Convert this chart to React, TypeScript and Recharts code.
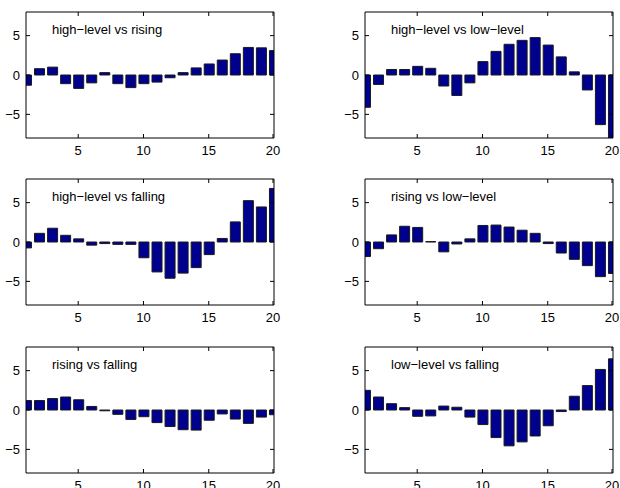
import { Bar, BarChart, XAxis, YAxis } from "recharts";

const STEPS = [1, 2, 3, 4, 5, 6, 7, 8, 9, 10, 11, 12, 13, 14, 15, 16, 17, 18, 19, 20];

const highVsRising = [-1.3, 0.8, 1.0, -1.1, -1.7, -1.0, 0.3, -1.1, -1.6, -1.1, -0.9, -0.35, 0.3, 0.9, 1.4, 1.9, 2.7, 3.5, 3.45, 3.1];
const highVsLow = [-4.1, -1.2, 0.7, 0.7, 1.1, 0.85, -1.4, -2.6, -1.0, 1.7, 3.0, 3.9, 4.4, 4.75, 3.8, 2.3, 0.4, -1.9, -6.3, -8.5];
const highVsFalling = [-0.75, 1.1, 1.75, 0.85, 0.4, -0.4, -0.2, -0.3, -0.3, -2.0, -3.8, -4.6, -3.95, -3.25, -1.6, 0.45, 2.55, 5.25, 4.45, 6.8];
const risingVsLow = [-1.85, -0.85, 0.9, 2.0, 1.85, 0.05, -1.25, -0.25, 0.4, 2.1, 2.15, 1.9, 1.5, 1.1, -0.2, -1.4, -2.2, -3.0, -4.4, -4.0];
const risingVsFalling = [1.2, 1.2, 1.45, 1.65, 1.3, 0.45, -0.1, -0.55, -1.2, -0.85, -1.6, -2.1, -2.5, -2.55, -1.3, -0.5, -1.15, -1.7, -0.9, -0.6];
const lowVsFalling = [2.5, 1.65, 0.8, 0.3, -0.8, -0.75, 0.5, 0.35, -0.9, -1.85, -3.5, -4.55, -4.05, -3.3, -2.0, -0.2, 1.75, 3.1, 5.15, 6.5];

const TITLES = [
  "high\u2212level vs rising",
  "high\u2212level vs low\u2212level",
  "high\u2212level vs falling",
  "rising vs low\u2212level",
  "rising vs falling",
  "low\u2212level vs falling",
];
const SERIES = [highVsRising, highVsLow, highVsFalling, risingVsLow, risingVsFalling, lowVsFalling];

const X_TICKS = [5, 10, 15, 20];
const Y_TICKS = [-5, 0, 5];

const FONT = "'Liberation Sans', Arial, Helvetica, sans-serif";
const MARGIN = 6;
const TICK_LEN = 4;

const fmt = (v: number) => String(v).replace("-", "\u2212");

function LeftTick({ x, y, payload }: any) {
  const ax = x + MARGIN;
  return (
    <g>
      <line x1={ax} x2={ax + TICK_LEN} y1={y} y2={y} stroke="#000" />
      <text x={x} y={y} dy="0.36em" textAnchor="end" fontSize={13} fill="#000" fontFamily={FONT}>
        {fmt(payload.value)}
      </text>
    </g>
  );
}

function RightTick({ x, y }: any) {
  const ax = x - MARGIN;
  return <line x1={ax} x2={ax - TICK_LEN} y1={y} y2={y} stroke="#000" />;
}

function BottomTick({ x, y, payload }: any) {
  const ay = y - MARGIN;
  return (
    <g>
      <line x1={x} x2={x} y1={ay} y2={ay - TICK_LEN} stroke="#000" />
      <text x={x} y={y} dy="0.87em" textAnchor="middle" fontSize={13} fill="#000" fontFamily={FONT}>
        {payload.value}
      </text>
    </g>
  );
}

function TopTick({ x, y }: any) {
  const ay = y + MARGIN;
  return <line x1={x} x2={x} y1={ay} y2={ay + TICK_LEN} stroke="#000" />;
}

function Panel({ title, values }: { title: string; values: number[] }) {
  const data = STEPS.map((x, i) => ({ x, v: values[i] }));
  return (
    <div style={{ position: "relative", width: 281, height: 159 }}>
      <BarChart width={281} height={159} data={data} margin={{ top: 11, right: 6, left: 0, bottom: 0 }}>
        <XAxis
          dataKey="x"
          type="number"
          domain={[1, 20]}
          allowDataOverflow
          ticks={X_TICKS}
          height={21}
          tickSize={0}
          tickMargin={MARGIN}
          tick={<BottomTick />}
          axisLine={{ stroke: "#000" }}
          tickLine={false}
        />
        {/* mirrored box edges, MATLAB style */}
        <XAxis
          xAxisId="top"
          orientation="top"
          dataKey="x"
          type="number"
          domain={[1, 20]}
          allowDataOverflow
          ticks={X_TICKS}
          height={1}
          tickSize={0}
          tickMargin={MARGIN}
          tick={<TopTick />}
          axisLine={{ stroke: "#000" }}
          tickLine={false}
        />
        <YAxis
          type="number"
          domain={[-8, 8]}
          allowDataOverflow
          ticks={Y_TICKS}
          width={26}
          tickSize={0}
          tickMargin={MARGIN}
          tick={<LeftTick />}
          axisLine={{ stroke: "#000" }}
          tickLine={false}
        />
        <YAxis
          yAxisId="right"
          orientation="right"
          type="number"
          domain={[-8, 8]}
          allowDataOverflow
          ticks={Y_TICKS}
          width={1}
          tickSize={0}
          tickMargin={MARGIN}
          tick={<RightTick />}
          axisLine={{ stroke: "#000" }}
          tickLine={false}
        />
        <Bar dataKey="v" barSize={10} fill="#00008f" stroke="#1a1a1a" strokeWidth={1} isAnimationActive={false} />
        <Bar dataKey="none" xAxisId="top" yAxisId="right" isAnimationActive={false} />
      </BarChart>
      <div
        style={{
          position: "absolute",
          left: 52,
          top: 23,
          fontFamily: FONT,
          fontSize: 13,
          color: "#000",
          whiteSpace: "nowrap",
          lineHeight: "13px",
        }}
      >
        {title}
      </div>
    </div>
  );
}

export default function App() {
  const rowTops = [0, 167, 335];
  const colLefts = [0, 339];
  return (
    <div style={{ position: "absolute", left: 0, top: 0, width: 620, height: 488, background: "#fff" }}>
      {SERIES.map((values, i) => (
        <div
          key={TITLES[i]}
          style={{ position: "absolute", left: colLefts[i % 2], top: rowTops[Math.floor(i / 2)] }}
        >
          <Panel title={TITLES[i]} values={values} />
        </div>
      ))}
    </div>
  );
}
